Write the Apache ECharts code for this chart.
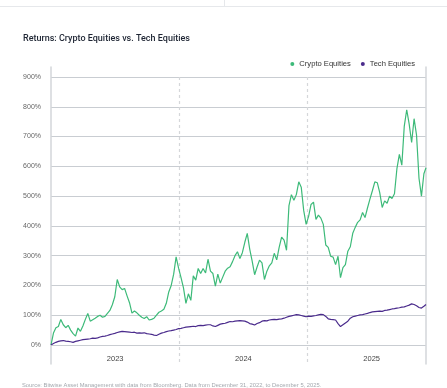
<!DOCTYPE html>
<html>
<head>
<meta charset="utf-8">
<script src="https://cdn.jsdelivr.net/npm/echarts@6/dist/echarts.min.js"></script>
<style>
html,body{margin:0;padding:0;background:#fff;}
#chart{width:447px;height:388px;}
</style>
</head>
<body>
<div id="chart"></div>
<script>
// Weekly observations, day offsets from 31 Dec 2022 (last point: 5 Dec 2025)
const startDate = '2022-12-31';
const endDay = 1070;
const yearStartDays = [366, 732];
const yearLabels = { 183: '2023', 549: '2024', 915: '2025' };
const yTicks = [0, 100, 200, 300, 400, 500, 600, 700, 800, 900];

const cryptoEquities = [
  0, 40, 58, 62, 86, 68, 58, 66, 50, 38,
  30, 57, 46, 64, 86, 106, 80, 85, 90, 96,
  100, 93, 96, 106, 116, 135, 162, 220, 195, 186,
  190, 165, 142, 107, 114, 108, 100, 93, 89, 95,
  84, 86, 90, 100, 110, 114, 120, 140, 178, 200,
  238, 296, 258, 226, 192, 140, 172, 150, 232, 218,
  257, 240, 257, 242, 288, 248, 240, 198, 238, 208,
  228, 248, 258, 263, 280, 300, 313, 290, 310, 345,
  375, 322, 282, 236, 262, 285, 276, 220, 248, 266,
  276, 308, 286, 328, 362, 352, 318, 468, 505, 486,
  505, 548, 530, 452, 405, 432, 472, 480, 422, 436,
  426, 405, 336, 328, 298, 295, 270, 298, 226, 260,
  270, 315, 330, 375, 395, 412, 420, 445, 428, 460,
  490, 518, 548, 545, 512, 462, 484, 476, 500, 492,
  508, 592, 640, 604, 735, 790, 742, 680, 760, 705,
  560, 500, 575, 595
];

const techEquities = [
  0, 5, 9, 12, 14, 15, 13, 12, 11, 9,
  12, 14, 16, 18, 19, 20, 21, 23, 22, 24,
  27, 29, 30, 32, 35, 37, 39, 42, 44, 46,
  45, 44, 43, 42, 43, 40, 41, 40, 41, 38,
  37, 36, 33, 32, 36, 40, 42, 45, 47, 48,
  50, 52, 55, 56, 58, 60, 61, 62, 63, 62,
  65, 66, 65, 67, 68, 68, 64, 62, 66, 70,
  72, 73, 76, 79, 78, 80, 81, 82, 81, 80,
  77, 72, 70, 67, 72, 75, 80, 82, 81, 84,
  85, 86, 85, 87, 88, 90, 93, 96, 98, 100,
  102, 101, 99, 97, 95, 97, 96, 98, 99, 101,
  103, 102, 96, 88, 86, 85, 84, 72, 62, 68,
  74, 80, 90, 95, 97, 99, 101, 102, 104, 106,
  109, 111, 112, 113, 114, 113, 116, 117, 119, 121,
  122, 124, 125, 127, 128, 131, 134, 138, 136, 132,
  126, 124, 130, 136
];

const dayOf = i => Math.min(i * 7, endDay);
const cryptoData = cryptoEquities.map((v, i) => [dayOf(i), v]);
const techData = techEquities.map((v, i) => [dayOf(i), v]);

const FONT = 'Liberation Sans, Arial, sans-serif';
const chart = echarts.init(document.getElementById('chart'), null, { renderer: 'canvas' });

chart.setOption({
  animation: false,
  backgroundColor: '#ffffff',
  title: {
    text: 'Returns: Crypto Equities vs. Tech Equities',
    left: 18, top: 29,
    textStyle: { fontFamily: 'Roboto, ' + FONT, fontSize: 9, fontWeight: 500, color: '#1e2533' }
  },
  legend: {
    right: 27, top: 55,
    icon: 'circle', itemWidth: 4, itemHeight: 4, itemGap: 10,
    textStyle: { fontFamily: FONT, fontSize: 7.6, color: '#333' },
    data: ['Crypto Equities', 'Tech Equities']
  },
  graphic: [
    { type: 'line', shape: { x1: 0, y1: 6.5, x2: 447, y2: 6.5 }, style: { stroke: '#e6e8eb', lineWidth: 1 }, silent: true },
    { type: 'line', shape: { x1: 224.5, y1: 0, x2: 224.5, y2: 6 }, style: { stroke: '#e6e8eb', lineWidth: 1 }, silent: true },
    { type: 'text', left: 22, top: 382,
      style: { text: 'Source: Bitwise Asset Management with data from Bloomberg. Data from December 31, 2022, to December 5, 2025.',
        font: '5.8px ' + FONT, fill: '#a3a8ae' } }
  ],
  grid: [
    { left: 51, right: 21, top: 77, bottom: 43 },
    { left: 51, right: 21, top: 67, bottom: 24 },
    { left: 51, right: 21, top: 77, bottom: 25 }
  ],
  xAxis: [
    { type: 'value', gridIndex: 0, min: 0, max: endDay, interval: 183,
      axisLine: { show: false }, axisTick: { show: false }, splitLine: { show: false },
      axisLabel: { margin: 10, showMinLabel: false, showMaxLabel: false,
        fontFamily: FONT, fontSize: 7.5, color: '#444',
        formatter: v => yearLabels[v] || '' } },
    { type: 'value', gridIndex: 1, min: 0, max: endDay, show: false },
    { type: 'value', gridIndex: 2, min: 0, max: endDay, interval: 366,
      axisLine: { show: false }, axisTick: { show: false }, axisLabel: { show: false },
      splitLine: { show: true, showMinLine: false, showMaxLine: false,
        lineStyle: { color: '#d5d7da', width: 1.2, type: [3, 3] } } }
  ],
  yAxis: [
    { type: 'value', gridIndex: 0, min: 0, max: 900, interval: 100,
      axisLine: { show: false }, axisTick: { show: false },
      splitLine: { lineStyle: { color: '#c9cdd2', width: 1.2 } },
      axisLabel: { margin: 10, fontFamily: FONT, fontSize: 7, color: '#666',
        formatter: v => (yTicks.includes(v) ? v + '%' : '') } },
    { type: 'value', gridIndex: 1, position: 'left', min: 0, max: 1,
      axisLine: { show: true, lineStyle: { color: '#d3d6da', width: 1.5 } },
      axisTick: { show: false }, axisLabel: { show: false }, splitLine: { show: false } },
    { type: 'value', gridIndex: 1, position: 'right', min: 0, max: 1,
      axisLine: { show: true, lineStyle: { color: '#d3d6da', width: 1.5 } },
      axisTick: { show: false }, axisLabel: { show: false }, splitLine: { show: false } },
    { type: 'value', gridIndex: 2, min: 0, max: 1, show: false }
  ],
  series: [
    { name: 'Crypto Equities', type: 'line', xAxisIndex: 0, yAxisIndex: 0,
      data: cryptoData, showSymbol: false, symbol: 'circle',
      itemStyle: { color: '#3dba79' }, lineStyle: { color: '#3dba79', width: 1.2 }, z: 3 },
    { name: 'Tech Equities', type: 'line', xAxisIndex: 0, yAxisIndex: 0,
      data: techData, showSymbol: false, symbol: 'circle',
      itemStyle: { color: '#4a2b8c' }, lineStyle: { color: '#4a2b8c', width: 1.2 }, z: 4 }
  ]
});
</script>
</body>
</html>
